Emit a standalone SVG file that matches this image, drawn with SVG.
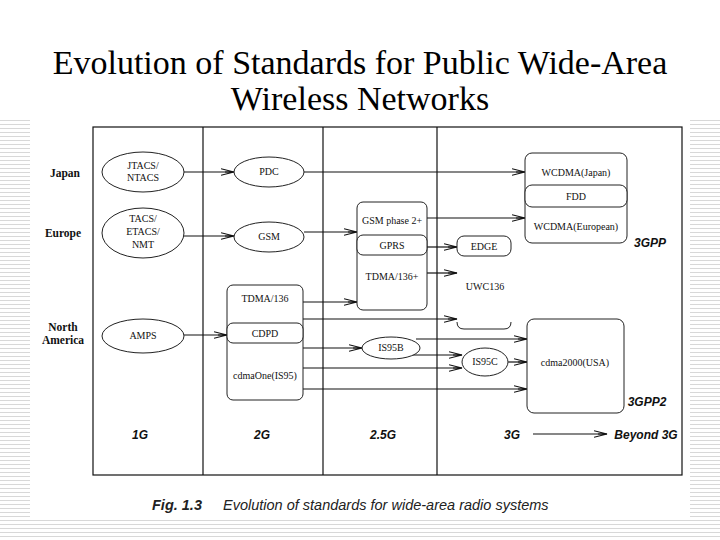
<svg xmlns="http://www.w3.org/2000/svg" width="720" height="540" viewBox="0 0 720 540">
<defs>
<pattern id="stripes" width="8" height="4" patternUnits="userSpaceOnUse"><rect width="8" height="4" fill="#fff"/><line x1="0" y1="0.5" x2="8" y2="0.5" stroke="#d8d8d8" stroke-width="1"/></pattern>
<marker id="ah" markerWidth="14" markerHeight="8" refX="13" refY="4" orient="auto" markerUnits="userSpaceOnUse"><path d="M0,0.8 L13,4 L0,7.2 M4,4 L13,4" fill="none" stroke="#111" stroke-width="1.1"/></marker>
<style>
.ln{stroke:#111;stroke-width:1.2;fill:none}
.sh{stroke:#222;stroke-width:1;fill:#fff}
.t{font-family:"Liberation Serif",serif;font-size:10px;fill:#111;text-anchor:middle}
.r{font-family:"Liberation Serif",serif;font-size:11.5px;font-weight:bold;fill:#111;text-anchor:middle}
.g{font-family:"Liberation Sans",sans-serif;font-size:12px;font-weight:bold;font-style:italic;fill:#111;text-anchor:middle}
.ti{font-family:"Liberation Serif",serif;font-size:34px;fill:#000;text-anchor:middle}
.cap{font-family:"Liberation Sans",sans-serif;font-size:14.5px;font-style:italic;fill:#222}
</style>
</defs>
<rect width="720" height="540" fill="url(#stripes)"/>
<rect x="0" y="0" width="720" height="118" fill="#fff"/>
<rect x="30" y="118" width="660" height="402" fill="#fff"/>
<text class="ti" x="360" y="74">Evolution of Standards for Public Wide-Area</text>
<text class="ti" x="360" y="110">Wireless Networks</text>

<g id="frame">
<rect x="93" y="127" width="589" height="348" class="ln"/>
<line x1="203" y1="127" x2="203" y2="475" class="ln"/>
<line x1="323" y1="127" x2="323" y2="475" class="ln"/>
<line x1="437" y1="127" x2="437" y2="475" class="ln"/>
</g>
<g id="rows">
<text class="r" x="65" y="177">Japan</text>
<text class="r" x="63" y="237">Europe</text>
<text class="r" x="63" y="331">North</text>
<text class="r" x="63" y="344">America</text>
</g>

<g id="connectors">
<line x1="184" y1="172" x2="234" y2="172" class="ln" marker-end="url(#ah)"/>
<line x1="184" y1="236" x2="234" y2="236" class="ln" marker-end="url(#ah)"/>
<line x1="304" y1="172" x2="525" y2="172" class="ln" marker-end="url(#ah)"/>
<line x1="304" y1="232" x2="357" y2="232" class="ln" marker-end="url(#ah)"/>
<line x1="427" y1="218" x2="525" y2="218" class="ln" marker-end="url(#ah)"/>
<line x1="427" y1="247" x2="457" y2="247" class="ln" marker-end="url(#ah)"/>
<line x1="427" y1="273" x2="457" y2="273" class="ln" marker-end="url(#ah)"/>
<line x1="303" y1="302" x2="357" y2="302" class="ln" marker-end="url(#ah)"/>
<line x1="184" y1="335" x2="227" y2="335" class="ln" marker-end="url(#ah)"/>
<line x1="303" y1="319" x2="457" y2="319" class="ln" marker-end="url(#ah)"/>
<line x1="303" y1="348" x2="362" y2="348" class="ln" marker-end="url(#ah)"/>
<line x1="303" y1="368" x2="462" y2="368" class="ln" marker-end="url(#ah)"/>
<line x1="303" y1="389" x2="527" y2="389" class="ln" marker-end="url(#ah)"/>
<line x1="416" y1="339" x2="527" y2="339" class="ln" marker-end="url(#ah)"/>
<line x1="410" y1="355" x2="462" y2="355" class="ln" marker-end="url(#ah)"/>
<line x1="508" y1="362" x2="527" y2="362" class="ln" marker-end="url(#ah)"/>
<line x1="533" y1="434" x2="607" y2="434" class="ln" marker-end="url(#ah)"/>
</g>

<g id="jtacs"><ellipse cx="143" cy="172" rx="41" ry="20" class="sh"/><text class="t" x="143" y="169">JTACS/</text><text class="t" x="143" y="181">NTACS</text></g>
<g id="tacs"><ellipse cx="143" cy="233" rx="41" ry="25" class="sh"/><text class="t" x="143" y="222">TACS/</text><text class="t" x="143" y="235">ETACS/</text><text class="t" x="143" y="248">NMT</text></g>
<g id="amps"><ellipse cx="143" cy="336" rx="41" ry="17" class="sh"/><text class="t" x="143" y="339">AMPS</text></g>
<g id="pdc"><ellipse cx="269" cy="172" rx="35" ry="15" class="sh"/><text class="t" x="269" y="175">PDC</text></g>
<g id="gsm"><ellipse cx="269" cy="237" rx="35" ry="15" class="sh"/><text class="t" x="269" y="240">GSM</text></g>
<g id="na2g">
<rect x="227" y="285" width="76" height="115" rx="6" class="sh"/>
<rect x="227" y="323" width="76" height="20" rx="6" class="sh"/>
<text class="t" x="265" y="302">TDMA/136</text>
<text class="t" x="265" y="337">CDPD</text>
<text class="t" x="265" y="379" font-size="9">cdmaOne(IS95)</text>
</g>
<g id="gsm25">
<rect x="357" y="202" width="70" height="108" rx="6" class="sh"/>
<rect x="357" y="235" width="70" height="20" rx="6" class="sh"/>
<text class="t" x="392" y="224">GSM phase 2+</text>
<text class="t" x="392" y="249">GPRS</text>
<text class="t" x="392" y="280">TDMA/136+</text>
</g>
<g id="edge"><rect x="457" y="236" width="54" height="20" rx="7" class="sh"/><text class="t" x="484" y="250">EDGE</text></g>
<g id="uwc"><path d="M457,322 Q457,329 464,329 L504,329 Q511,329 511,322" class="sh" fill="none"/><text class="t" x="485" y="290">UWC136</text></g>
<g id="is95b"><ellipse cx="391" cy="348" rx="29" ry="11" class="sh"/><text class="t" x="391" y="351">IS95B</text></g>
<g id="is95c"><ellipse cx="485" cy="362" rx="23" ry="14" class="sh"/><text class="t" x="485" y="365" font-size="9">IS95C</text></g>
<g id="wcdma">
<rect x="525" y="153" width="102" height="90" rx="7" class="sh"/>
<rect x="525" y="185" width="102" height="22" rx="7" class="sh"/>
<text class="t" x="576" y="176">WCDMA(Japan)</text>
<text class="t" x="576" y="200">FDD</text>
<text class="t" x="576" y="230">WCDMA(European)</text>
</g>
<g id="cdma2000"><rect x="527" y="319" width="97" height="94" rx="7" class="sh"/><text class="t" x="575" y="366" font-size="9">cdma2000(USA)</text></g>

<g id="labels">
<text class="g" x="650" y="247">3GPP</text>
<text class="g" x="647" y="406">3GPP2</text>
<text class="g" x="140" y="439">1G</text>
<text class="g" x="262" y="439">2G</text>
<text class="g" x="383" y="439">2.5G</text>
<text class="g" x="512" y="439">3G</text>
<text class="g" x="646" y="439">Beyond 3G</text>
</g>
<text class="cap" x="152" y="510"><tspan font-weight="bold">Fig. 1.3</tspan><tspan x="223">Evolution of standards for wide-area radio systems</tspan></text>
</svg>
